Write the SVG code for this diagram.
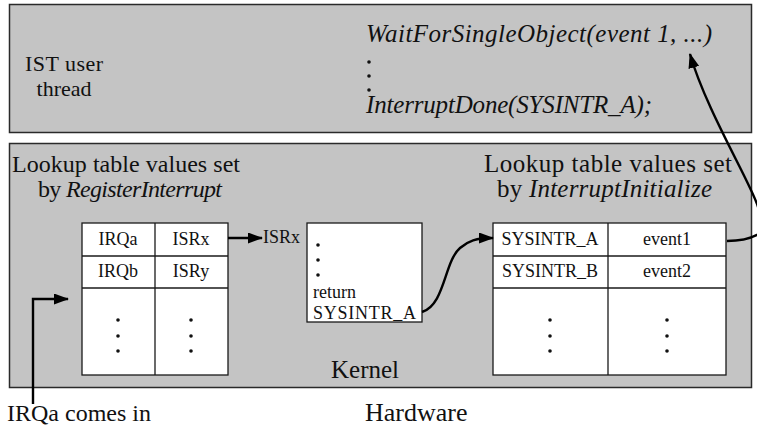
<svg xmlns="http://www.w3.org/2000/svg" width="757" height="431" viewBox="0 0 757 431">
<defs>
<marker id="ah" viewBox="0 0 15 11" refX="14" refY="5.5" markerWidth="15" markerHeight="11" markerUnits="userSpaceOnUse" orient="auto">
<path d="M0,0 L15,5.5 L0,11 Z" fill="#000"/>
</marker>
</defs>
<style>
text{font-family:"Liberation Serif","Times New Roman",serif;fill:#111}
.h{font-size:24px}
.c{font-size:18px}
.it{font-style:italic}
.panel{fill:#c4c4c4;stroke:#2a2a2a;stroke-width:1.5}
.tbl{fill:#fff;stroke:#1a1a1a;stroke-width:1.3}
.conn{fill:none;stroke:#000;stroke-width:2.4}
.dot{fill:#111}
</style>
<rect width="757" height="431" fill="#fff"/>
<g id="ist-user-thread">
<rect class="panel" x="9.5" y="4.5" width="742" height="128"/>
<text class="h" x="64" y="71" text-anchor="middle" style="font-size:22px" textLength="78">IST user</text>
<text class="h" x="64" y="96" text-anchor="middle" style="font-size:22px">thread</text>
<text class="h it" x="366" y="42" style="font-size:25px" textLength="346">WaitForSingleObject(event 1, ...)</text>
<circle class="dot" cx="369" cy="62" r="1.8"/>
<circle class="dot" cx="369" cy="76" r="1.8"/>
<circle class="dot" cx="369" cy="90" r="1.8"/>
<text class="h it" x="366" y="113" style="font-size:25px" textLength="286">InterruptDone(SYSINTR_A);</text>
</g>
<g id="kernel">
<rect class="panel" x="9.5" y="143.5" width="742" height="244"/>
<text class="h" x="12" y="172" textLength="228">Lookup table values set</text>
<text class="h" x="38" y="197" textLength="184">by <tspan class="it">RegisterInterrupt</tspan></text>
<text class="h" x="484" y="172" style="font-size:25px" textLength="248">Lookup table values set</text>
<text class="h" x="497" y="197" style="font-size:25px" textLength="215">by <tspan class="it">InterruptInitialize</tspan></text>
<text class="h" x="365" y="378" text-anchor="middle" style="font-size:25px">Kernel</text>
</g>
<g id="irq-table">
<rect class="tbl" x="82" y="223" width="146" height="152"/>
<line class="tbl" x1="155" y1="223" x2="155" y2="375"/>
<line class="tbl" x1="82" y1="256" x2="228" y2="256"/>
<line class="tbl" x1="82" y1="288" x2="228" y2="288"/>
<text class="c" x="118" y="245" text-anchor="middle">IRQa</text>
<text class="c" x="191" y="245" text-anchor="middle">ISRx</text>
<text class="c" x="118" y="277" text-anchor="middle">IRQb</text>
<text class="c" x="191" y="277" text-anchor="middle">ISRy</text>
<circle class="dot" cx="118" cy="320" r="1.8"/><circle class="dot" cx="118" cy="336" r="1.8"/><circle class="dot" cx="118" cy="351" r="1.8"/>
<circle class="dot" cx="191" cy="320" r="1.8"/><circle class="dot" cx="191" cy="336" r="1.8"/><circle class="dot" cx="191" cy="351" r="1.8"/>
</g>
<g id="isr-code">
<rect class="tbl" x="307" y="223" width="115" height="99"/>
<circle class="dot" cx="318" cy="245" r="1.8"/>
<circle class="dot" cx="318" cy="260" r="1.8"/>
<circle class="dot" cx="318" cy="275" r="1.8"/>
<text class="c" x="313" y="298">return</text>
<text class="c" x="313" y="319" textLength="103">SYSINTR_A</text>
</g>
<g id="sysintr-table">
<rect class="tbl" x="493" y="223" width="233" height="152"/>
<line class="tbl" x1="608" y1="223" x2="608" y2="375"/>
<line class="tbl" x1="493" y1="256" x2="726" y2="256"/>
<line class="tbl" x1="493" y1="288" x2="726" y2="288"/>
<text class="c" x="550" y="245" text-anchor="middle">SYSINTR_A</text>
<text class="c" x="667" y="245" text-anchor="middle">event1</text>
<text class="c" x="550" y="277" text-anchor="middle">SYSINTR_B</text>
<text class="c" x="667" y="277" text-anchor="middle">event2</text>
<circle class="dot" cx="550" cy="320" r="1.8"/><circle class="dot" cx="550" cy="336" r="1.8"/><circle class="dot" cx="550" cy="351" r="1.8"/>
<circle class="dot" cx="667" cy="320" r="1.8"/><circle class="dot" cx="667" cy="336" r="1.8"/><circle class="dot" cx="667" cy="351" r="1.8"/>
</g>
<g id="labels">
<text class="c" x="263" y="243">ISRx</text>
<text class="h" x="7" y="421" textLength="144">IRQa comes in</text>
<text class="h" x="365" y="421" style="font-size:26px">Hardware</text>
</g>
<g id="connectors">
<path class="conn" d="M228,238 L262,238" marker-end="url(#ah)"/>
<path class="conn" d="M422,312 C445,305 444,262 460,248 C468,241 476,238 493,238" marker-end="url(#ah)"/>
<path class="conn" d="M727,241 C745,241 760,236 768,226 C772,220 765,214 758,207 C752,185 706,110 690,54" marker-end="url(#ah)"/>
<path class="conn" d="M33,404 L33,299 L68,299" marker-end="url(#ah)"/>
</g>
</svg>
